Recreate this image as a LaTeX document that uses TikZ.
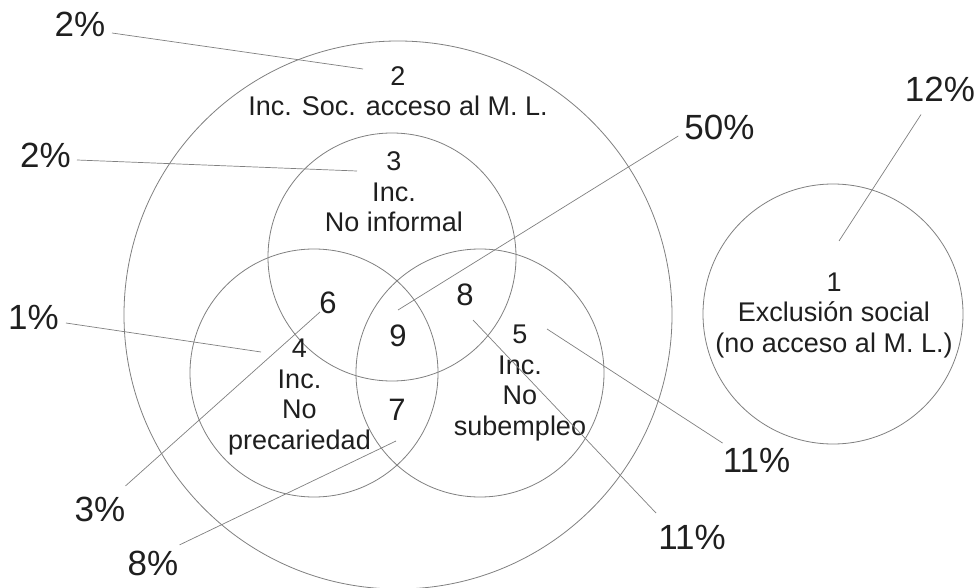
\documentclass[tikz,border=0pt]{standalone}
\usepackage{fontspec}
\setmainfont{Liberation Sans}
\begin{document}
\begin{tikzpicture}[x=1pt,y=-1pt,
  ring/.style={draw=black!50,line width=0.8pt},
  leader/.style={draw=black!50,line width=0.7pt},
  pct/.style={inner sep=0pt,text=black!88,font=\fontsize{35}{38}\selectfont},
  lbl/.style={inner sep=0pt,text=black!88,align=center,anchor=base,font=\fontsize{27}{30.5}\selectfont},
  reg/.style={inner sep=0pt,text=black!88,anchor=base,font=\fontsize{31}{34}\selectfont}]
\fill[white] (0,0) rectangle (977,588);
\useasboundingbox (0,0) rectangle (977,588);
% circles
\draw[ring] (398,315) circle [radius=274pt];
\draw[ring] (392,257) circle [radius=124pt];
\draw[ring] (314,373) circle [radius=124pt];
\draw[ring] (480,373) circle [radius=124pt];
\draw[ring] (833,314) circle [radius=130pt];
% labels (anchored at the baseline of their last line)
\node[lbl] (l2) at (398,116) {2\\Inc. Soc. acceso al M. L.};
\node[lbl] (l3) at (394,232) {3\\Inc.\\No informal};
\node[lbl] (l4) at (299.5,449) {4\\Inc.\\No\\precariedad};
\node[lbl] (l5) at (520,435) {5\\Inc.\\No\\subempleo};
\node[lbl] (l1) at (834,352) {1\\Exclusión social\\(no acceso al M. L.)};
\node[reg] (r6) at (328,313) {6};
\node[reg] (r9) at (398,346) {9};
\node[reg] (r8) at (465,305) {8};
\node[reg] (r7) at (397,420) {7};
% percentages
\node[pct] (pA) at (80,24.5) {2\%};
\node[pct] (pB) at (45.5,155.5) {2\%};
\node[pct] (pC) at (33.5,317) {1\%};
\node[pct] (pD) at (100,509.5) {3\%};
\node[pct] (pE) at (153,563.5) {8\%};
\node[pct] (pF) at (756.5,460.5) {11\%};
\node[pct] (pG) at (692,537.5) {11\%};
\node[pct] (pH) at (719.5,127.5) {50\%};
\node[pct] (pI) at (940,89) {12\%};
% leader ends
\coordinate (eA) at (363,69);
\coordinate (eB) at (357,171);
\coordinate (eC) at (261,352);
\coordinate (eD) at (320,312);
\coordinate (eE) at (396,441);
\coordinate (eF) at (547,329);
\coordinate (eG) at (473,320);
\coordinate (eH) at (398,310);
\coordinate (eI) at (839,241);
\draw[leader] ([shift={(6.5,8.5)}]pA.east) -- (eA);
\draw[leader] ([shift={(6,4.5)}]pB.east) -- (eB);
\draw[leader] ([shift={(7,6)}]pC.east) -- (eC);
\draw[leader] ([shift={(0,-11)}]pD.north east) -- (eD);
\draw[leader] ([shift={(1,-6)}]pE.north east) -- (eE);
\draw[leader] ([shift={(0,-5)}]pF.north west) -- (eF);
\draw[leader] ([shift={(-2,-12)}]pG.north west) -- (eG);
\draw[leader] ([shift={(-6,8.5)}]pH.west) -- (eH);
\draw[leader] ([shift={(-19,13)}]pI.south) -- (eI);
\end{tikzpicture}
\end{document}
